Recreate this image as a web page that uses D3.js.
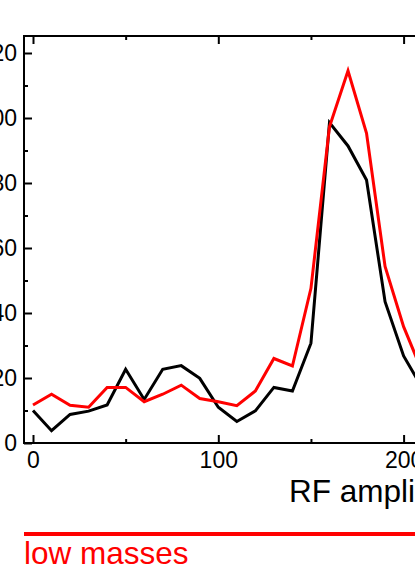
<!DOCTYPE html>
<html>
<head>
  <style>
    body { margin: 0; background: #fff; font-family: Arial, "Liberation Sans", sans-serif; }
  </style>
  <script src="https://d3js.org/d3.v7.min.js"></script>
</head>
<body>
  <div id="chart"></div>
  <script>
    // RF amplitude values (x) and the two series
    const rfAmplitude = [0, 10, 20, 30, 40, 50, 60, 70, 80, 90, 100, 110, 120, 130, 140, 150, 160, 170, 180, 190, 200, 210];
    const blackSeries = [10, 3.8, 8.8, 9.8, 11.7, 22.7, 13.4, 22.7, 23.8, 19.9, 11, 6.6, 9.9, 17.1, 16, 30.7, 98.6, 91.4, 80.9, 43.5, 26.8, 17];
    const lowMasses = [11.7, 15, 11.6, 11, 17.1, 17.1, 12.7, 15, 17.8, 13.7, 12.7, 11.5, 16, 26, 23.7, 47.6, 97.3, 114.5, 95.3, 54.3, 35.8, 22];
    const yTicks = [0, 20, 40, 60, 80, 100, 120];
    const yMinor = [10, 30, 50, 70, 90, 110];
    const xTicks = [0, 100, 200];
    const xMinor = [50, 150, 250];

    const W = 415, H = 577;
    const svg = d3.select("#chart").append("svg").attr("width", W).attr("height", H);

    const x = d3.scaleLinear().domain([0, 100]).range([33, 218.3]);
    const y = d3.scaleLinear().domain([0, 120]).range([443, 53]);

    const plotLeft = 24, plotTop = 36, plotBottom = 443, plotRight = 600;
    const font = "Arial, 'Liberation Sans', sans-serif";

    // frame
    svg.append("path")
      .attr("d", `M${plotRight},${plotTop}H${plotLeft}V${plotBottom}H${plotRight}`)
      .attr("fill", "none").attr("stroke", "#000").attr("stroke-width", 2);

    // x axis (ticks inward)
    const xAxis = svg.append("g").attr("transform", `translate(0,${plotBottom})`)
      .call(d3.axisBottom(x).tickValues(xTicks).tickSizeInner(-8).tickSizeOuter(0).tickPadding(9).tickFormat(d3.format("d")));
    xAxis.select(".domain").remove();
    xAxis.selectAll(".tick line").attr("stroke-width", 2);
    xAxis.selectAll("text").attr("font-size", 23).attr("font-family", font).attr("fill", "#000");
    svg.append("g").attr("transform", `translate(0,${plotBottom})`)
      .call(d3.axisBottom(x).tickValues(xMinor).tickSizeInner(-4).tickSizeOuter(0).tickFormat(""))
      .call(g => g.select(".domain").remove())
      .selectAll("line").attr("stroke-width", 2);

    // top mirror ticks
    svg.append("g").attr("transform", `translate(0,${plotTop})`)
      .call(d3.axisTop(x).tickValues(xTicks).tickSizeInner(-8).tickSizeOuter(0).tickFormat(""))
      .call(g => g.select(".domain").remove())
      .selectAll("line").attr("stroke-width", 2);
    svg.append("g").attr("transform", `translate(0,${plotTop})`)
      .call(d3.axisTop(x).tickValues(xMinor).tickSizeInner(-4).tickSizeOuter(0).tickFormat(""))
      .call(g => g.select(".domain").remove())
      .selectAll("line").attr("stroke-width", 2);

    // y axis (ticks inward)
    const yAxis = svg.append("g").attr("transform", `translate(${plotLeft},0)`)
      .call(d3.axisLeft(y).tickValues(yTicks).tickSizeInner(-8).tickSizeOuter(0).tickPadding(7));
    yAxis.select(".domain").remove();
    yAxis.selectAll(".tick line").attr("stroke-width", 2);
    yAxis.selectAll("text").attr("font-size", 23).attr("font-family", font).attr("fill", "#000");
    svg.append("g").attr("transform", `translate(${plotLeft},0)`)
      .call(d3.axisLeft(y).tickValues(yMinor).tickSizeInner(-4).tickSizeOuter(0).tickFormat(""))
      .call(g => g.select(".domain").remove())
      .selectAll("line").attr("stroke-width", 2);

    // lines
    const line = d3.line().x((d, i) => x(rfAmplitude[i])).y(d => y(d));
    svg.append("path").datum(blackSeries)
      .attr("fill", "none").attr("stroke", "#000").attr("stroke-width", 3).attr("d", line);
    svg.append("path").datum(lowMasses)
      .attr("fill", "none").attr("stroke", "#ff0000").attr("stroke-width", 3).attr("d", line);

    // x axis title
    svg.append("text").attr("x", 289).attr("y", 502)
      .attr("font-size", 31.5).attr("font-family", font).attr("fill", "#000").text("RF amplitude (V)");

    // legend
    svg.append("line").attr("x1", plotLeft).attr("x2", W + 10).attr("y1", 534).attr("y2", 534)
      .attr("stroke", "#ff0000").attr("stroke-width", 4);
    svg.append("text").attr("x", 24).attr("y", 564)
      .attr("font-size", 31.5).attr("font-family", font).attr("fill", "#ff0000").text("low masses");
  </script>
</body>
</html>
